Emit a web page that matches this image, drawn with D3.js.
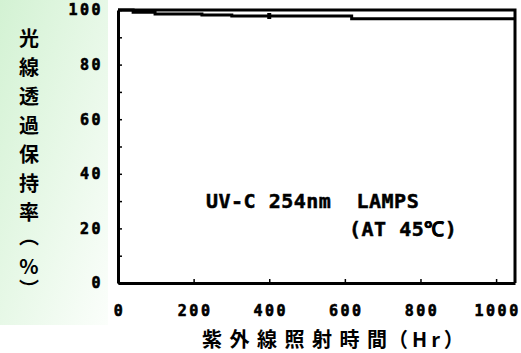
<!DOCTYPE html>
<html>
<head>
<meta charset="utf-8">
<script src="https://cdn.jsdelivr.net/npm/d3@7"></script>
<style>
  body { margin: 0; background: #fff; }
  svg { display: block; }
  text { white-space: pre; }
  .tick text { font-family: "DejaVu Sans Mono", monospace; font-weight: bold; font-size: 15px; letter-spacing: 2.5px; fill: #000; stroke: #000; stroke-width: 0.6px; }
</style>
</head>
<body>
<div id="chart"></div>
<script>
// hours of UV exposure and light retention (%)
var hours = [0, 40, 98, 222, 301, 618, 1050];
var retention = [100, 99.2, 98.5, 98.2, 97.8, 96.8, 96.8];
var markerHours = [400];
var markerValues = [97.8];
var yTicks = [0, 10, 20, 30, 40, 50, 60, 70, 80, 90, 100];
var xTicks = [0, 200, 400, 600, 800, 1000];
var yTitle = ["光", "線", "透", "過", "保", "持", "率", "︵", "%", "︶"];
var xTitle = "紫外線照射時間";
var xTitleUnit = "（Hr）";
var note1 = "UV-C 254nm  LAMPS";
var note2 = "(AT 45℃)";

var width = 521, height = 353;

var svg = d3.select("#chart").append("svg")
  .attr("width", width)
  .attr("height", height);

var defs = svg.append("defs");
var grad = defs.append("linearGradient")
  .attr("id", "side")
  .attr("x1", 0).attr("y1", 0).attr("x2", 1).attr("y2", 1);
grad.append("stop").attr("offset", "0%").attr("stop-color", "#d3f2d3");
grad.append("stop").attr("offset", "100%").attr("stop-color", "#fbfefb");

svg.append("rect")
  .attr("x", 0).attr("y", 0)
  .attr("width", 108).attr("height", 325)
  .attr("fill", "url(#side)");

var x = d3.scaleLinear().domain([0, 1050]).range([118, 515]);
var y = d3.scaleLinear().domain([0, 100]).range([283, 10]);

// frame top + right
svg.append("path")
  .attr("d", "M" + x(0) + "," + y(100) + "H" + x(1050) + "V" + y(0))
  .attr("fill", "none")
  .attr("stroke", "#000")
  .attr("stroke-width", 3);

var yAxis = svg.append("g")
  .attr("transform", "translate(" + x(0) + ",0)")
  .call(d3.axisLeft(y)
    .tickValues(yTicks)
    .tickSizeInner(-4)
    .tickSizeOuter(0)
    .tickPadding(15)
    .tickFormat(function(d) { return d % 20 ? "" : d; }));

var xAxis = svg.append("g")
  .attr("transform", "translate(0," + y(0) + ")")
  .call(d3.axisBottom(x)
    .tickValues(xTicks)
    .tickSizeInner(-4)
    .tickSizeOuter(0)
    .tickPadding(22)
    .tickFormat(function(d) { return d; }));

svg.selectAll(".domain").attr("stroke-width", 3).attr("stroke", "#000");
svg.selectAll(".tick line").attr("stroke-width", 1.5).attr("stroke", "#000");
xAxis.selectAll(".tick text").attr("dx", "1px");

var line = d3.line()
  .x(function(d, i) { return x(hours[i]); })
  .y(function(d) { return y(d); })
  .curve(d3.curveStepAfter);

svg.append("path")
  .datum(retention)
  .attr("d", line)
  .attr("fill", "none")
  .attr("stroke", "#000")
  .attr("stroke-width", 3);

svg.selectAll("rect.mark")
  .data(markerHours)
  .enter()
  .append("rect")
  .attr("class", "mark")
  .attr("x", function(d) { return x(d) - 2; })
  .attr("y", function(d, i) { return y(markerValues[i]) - 3; })
  .attr("width", 4)
  .attr("height", 6)
  .attr("fill", "#000");

// vertical y title
svg.append("text")
  .attr("font-family", "'Noto Sans CJK JP', sans-serif")
  .attr("font-weight", "bold")
  .attr("font-size", 20)
  .attr("text-anchor", "middle")
  .selectAll("tspan")
  .data(yTitle)
  .enter()
  .append("tspan")
  .attr("x", 29)
  .attr("y", function(d, i) { return 46 + i * 29 - (d == "︶" ? 10 : 0) + (d == "︵" ? -5 : 0) + (d == "%" ? -4 : 0); })
  .text(function(d) { return d; });

var xt = svg.append("text")
  .attr("y", 347)
  .attr("font-family", "'Noto Sans CJK JP', sans-serif")
  .attr("font-weight", "bold")
  .attr("font-size", 20);
xt.append("tspan")
  .attr("x", 202)
  .attr("letter-spacing", "7.5px")
  .text(xTitle);
xt.append("tspan")
  .attr("x", 388)
  .attr("letter-spacing", "4px")
  .text(xTitleUnit);

svg.append("text")
  .attr("x", 206)
  .attr("y", 208)
  .attr("font-family", "'DejaVu Sans Mono', monospace")
  .attr("font-weight", "bold")
  .attr("font-size", 20)
  .attr("letter-spacing", "0.5px")
  .attr("stroke", "#000")
  .attr("stroke-width", 0.5)
  .text(note1);

svg.append("text")
  .attr("x", 349)
  .attr("y", 236)
  .attr("font-family", "'DejaVu Sans Mono', monospace")
  .attr("font-weight", "bold")
  .attr("font-size", 20)
  .attr("letter-spacing", "0.5px")
  .attr("stroke", "#000")
  .attr("stroke-width", 0.5)
  .text(note2);
</script>
</body>
</html>
